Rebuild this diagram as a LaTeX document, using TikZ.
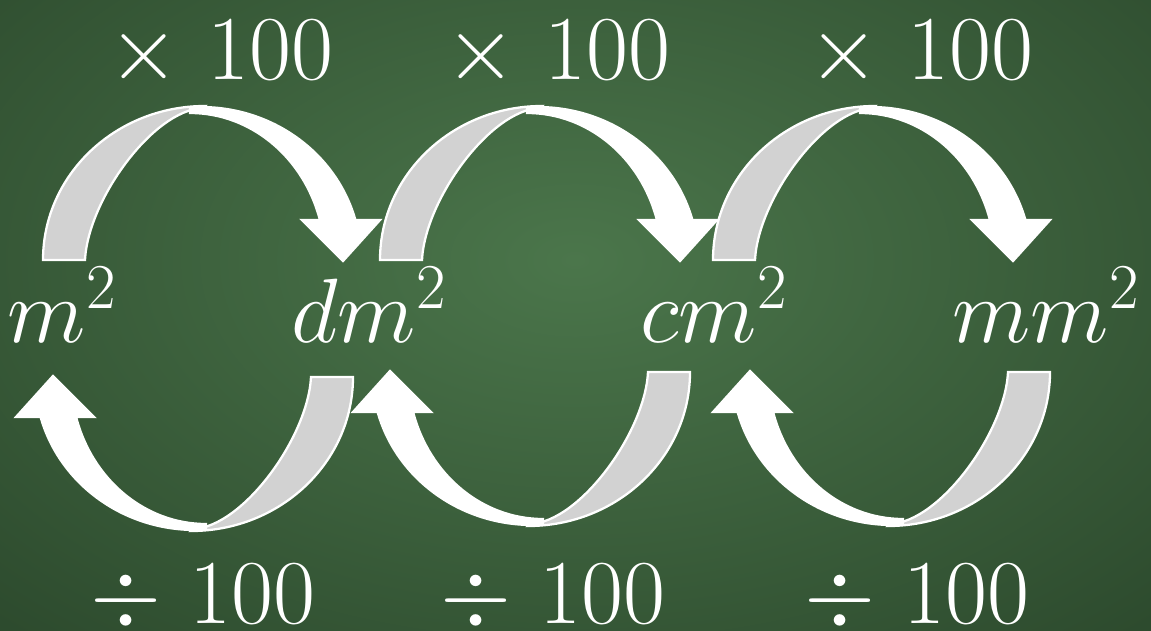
\RequirePackage{fix-cm}
\documentclass[tikz,border=0pt]{standalone}
\usepackage{amsmath}
\usepackage{tikz}
\definecolor{chalkhi}{HTML}{4B764B}
\definecolor{chalklo}{HTML}{1E351F}
\definecolor{backgray}{HTML}{D2D2D2}

% one curved block arrow, outer foot at the origin
\newcommand{\bendarrow}{%
  \fill[backgray,draw=white,line width=1.3pt] (0,0)
    arc[start angle=180,end angle=90,x radius=162,y radius=154]
    -- (160,152) .. controls (110,150) and (45,60) .. (42,0) -- cycle;
  \fill[white,draw=white,line width=1.3pt] (147,152.6)
    arc[start angle=93.94,end angle=15.16,x radius=160,y radius=153]
    -- (337,40) -- (300,-1) -- (259,40) -- (276.9,40)
    arc[start angle=15.79,end angle=90,x radius=135,y radius=147] -- cycle;}

\begin{document}
\begin{tikzpicture}[x=0.02cm,y=0.02cm,
    unit/.style={text=white,font=\fontsize{52}{60}\selectfont,anchor=base,inner sep=0pt},
    op/.style={text=white,font=\fontsize{52}{60}\selectfont,anchor=base,inner sep=0pt}]
  \useasboundingbox (0,0) rectangle (1151,630);
  \begin{scope}
    \clip (0,0) rectangle (1151,630);
    \fill[chalklo] (0,0) rectangle (1151,630);
    \shade[inner color=chalkhi,outer color=chalklo] (575,370) ellipse[x radius=1250,y radius=760];
  \end{scope}
  % arrows over the top, then under the bottom
  \foreach \x in {43,380,713}
    {\begin{scope}[shift={(\x,370)}] \bendarrow \end{scope}}
  \foreach \x/\y in {353/253,690/258,1050/258}
    {\begin{scope}[shift={(\x,\y)},rotate=180] \bendarrow \end{scope}}
  \node[unit] (m2)  at (62,288)   {$m^2$};
  \node[unit] (dm2) at (369,288)  {$dm^2$};
  \node[unit] (cm2) at (714,288)  {$cm^2$};
  \node[unit] (mm2) at (1046,288) {$mm^2$};
  \node[op] (mul1) at (221,551) {$\times$ 100};
  \node[op] (mul2) at (558,551) {$\times$ 100};
  \node[op] (mul3) at (921,551) {$\times$ 100};
  \node[op] (div1) at (203,7) {$\div$ 100};
  \node[op] (div2) at (553,7) {$\div$ 100};
  \node[op] (div3) at (917,7) {$\div$ 100};
\end{tikzpicture}
\end{document}
